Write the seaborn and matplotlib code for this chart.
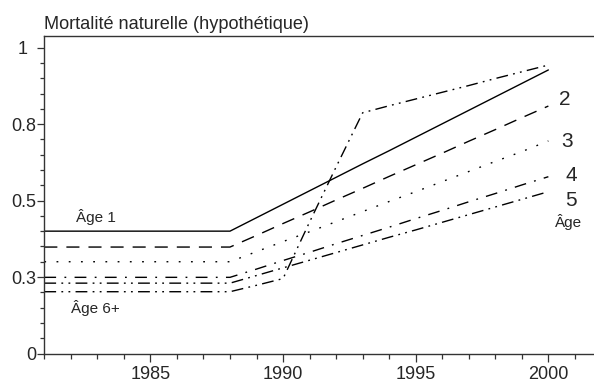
import numpy as np
import pandas as pd
import matplotlib
matplotlib.use("Agg")
import matplotlib.pyplot as plt
import matplotlib.transforms as mtransforms
from matplotlib.ticker import FixedLocator, MultipleLocator
import seaborn as sns

# ---- data ----
years = list(range(1981, 2001))
age1 = [0.400] * 7 + [0.400, 0.444, 0.488, 0.532, 0.576, 0.620, 0.663, 0.707, 0.751, 0.795, 0.839, 0.883, 0.927]
age2 = [0.348] * 7 + [0.348, 0.386, 0.425, 0.463, 0.502, 0.540, 0.579, 0.617, 0.655, 0.694, 0.732, 0.771, 0.809]
age3 = [0.300] * 7 + [0.300, 0.333, 0.366, 0.398, 0.431, 0.464, 0.497, 0.529, 0.562, 0.595, 0.628, 0.660, 0.695]
age4 = [0.249] * 7 + [0.249, 0.276, 0.304, 0.331, 0.359, 0.386, 0.413, 0.441, 0.468, 0.496, 0.523, 0.551, 0.578]
age5 = [0.230] * 7 + [0.230, 0.255, 0.280, 0.305, 0.330, 0.355, 0.380, 0.404, 0.429, 0.454, 0.479, 0.504, 0.529]
age6 = [0.202] * 7 + [0.202, 0.223, 0.245, 0.430, 0.610, 0.787, 0.810, 0.832, 0.854, 0.876, 0.899, 0.921, 0.943]
series_names = ["1", "2", "3", "4", "5", "6+"]
ytick_vals = [0, 0.25, 0.5, 0.75, 1]
ytick_labels = ["0", "0.3", "0.5", "0.8", "1"]
xtick_vals = [1985, 1990, 1995, 2000]
title = "Mortalité naturelle (hypothétique)"

df = pd.concat([
    pd.DataFrame({"Année": years, "M": vals, "Âge": name})
    for name, vals in zip(series_names, [age1, age2, age3, age4, age5, age6])
], ignore_index=True)

sns.set_style("ticks")
plt.rcParams["font.family"] = ["Liberation Sans", "DejaVu Sans"]

fig = plt.figure(figsize=(5.94, 3.84), dpi=100)
ax = fig.add_axes([44.3 / 594, 30.5 / 384, 1 - 44.3 / 594, (353.5 - 36) / 384])

dashes = {
    "1": "",
    "2": (9.4, 6.5),
    "3": (1.3, 7.5),
    "4": (8.5, 6.0, 1.3, 6.0),
    "5": (8.5, 3.8, 1.3, 3.8, 1.3, 3.8),
    "6+": (8.5, 3.8, 1.3, 3.8, 1.3, 3.8),
}
sns.lineplot(data=df, x="Année", y="M", style="Âge", dashes=dashes,
             color="black", linewidth=1.0, legend=False, ax=ax)

ax.set_xlim(1981, 2001.72)
ax.set_ylim(0, 1.038)
ax.xaxis.set_major_locator(FixedLocator(xtick_vals))
ax.xaxis.set_minor_locator(MultipleLocator(1))
ax.yaxis.set_major_locator(FixedLocator(ytick_vals))
ax.set_yticklabels(ytick_labels)
ax.yaxis.set_minor_locator(MultipleLocator(0.05))
ax.set_xlabel("")
ax.set_ylabel("")

for s in ["left", "bottom", "top"]:
    ax.spines[s].set_visible(True)
    ax.spines[s].set_linewidth(1.0)
    ax.spines[s].set_color("#333333")
ax.spines["right"].set_visible(False)

ax.tick_params(axis="both", which="major", labelsize=13, color="#333333",
               width=0.9, direction="out")
ax.tick_params(axis="x", which="major", length=6, pad=3)
ax.tick_params(axis="x", which="minor", length=3.5, width=0.9, color="#333333")
ax.tick_params(axis="y", which="major", length=5, pad=1)
ax.tick_params(axis="y", which="minor", length=3, width=0.9, color="#333333")
ax.tick_params(top=False, right=False, which="both")

# the "1" label sits a little further left in the reference
lab_top = ax.get_yticklabels()[-1]
lab_top.set_transform(lab_top.get_transform() +
                      mtransforms.ScaledTranslation(-8 / 100, 0, fig.dpi_scale_trans))

ax.set_title(title, loc="left", fontsize=13.1, pad=5)

ax.text(1982.2, 0.447, "Âge 1", fontsize=11, ha="left", va="center")
ax.text(1982.0, 0.15, "Âge 6+", fontsize=11, ha="left", va="center")
ax.text(2000.6, 0.829, "2", fontsize=15, ha="center", va="center")
ax.text(2000.7, 0.693, "3", fontsize=15, ha="center", va="center")
ax.text(2000.85, 0.582, "4", fontsize=15, ha="center", va="center")
ax.text(2000.85, 0.500, "5", fontsize=15, ha="center", va="center")
ax.text(2000.75, 0.43, "Âge", fontsize=11, ha="center", va="center")

fig.savefig("out.png", dpi=100)
